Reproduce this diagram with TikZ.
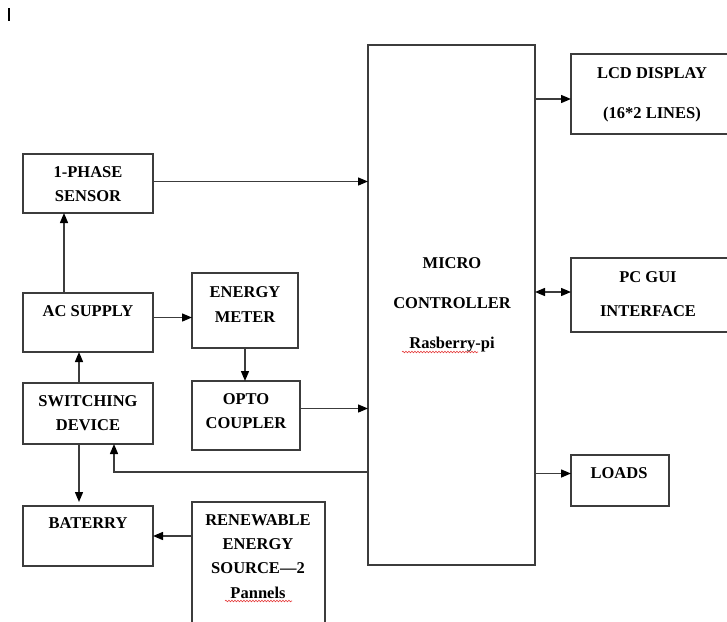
\documentclass[tikz,border=0pt]{standalone}
\usepackage{fontspec}
\setmainfont{Liberation Serif}
\usetikzlibrary{arrows.meta,decorations.pathmorphing,calc}
\definecolor{linec}{RGB}{60,60,60}
\definecolor{spell}{RGB}{230,60,60}
\begin{document}
\begin{tikzpicture}[x=1pt,y=-1pt,
  box/.style={draw=linec,line width=1.5pt,rectangle,inner sep=0pt,outer sep=0pt,anchor=north west},
  lbl/.style={font=\bfseries\fontsize{16.5}{17}\selectfont,text=black,inner sep=0pt,anchor=base},
  conn/.style={draw=linec,line width=1.4pt,-{Triangle[length=10pt,width=8pt,color=black]}},
  dconn/.style={draw=linec,line width=1.4pt,{Triangle[length=10pt,width=8pt,color=black]}-{Triangle[length=10pt,width=8pt,color=black]}},
  wavy/.style={draw=spell,line width=0.6pt,decorate,decoration={snake,amplitude=0.8pt,segment length=3pt}}
]
\useasboundingbox (0,0) rectangle (727,621);
\fill[white] (0,0) rectangle (727,621);
% cursor mark
\draw[line width=1.8pt,black] (9,8) -- (9,21);
% boxes
\node[box,minimum width=130pt,minimum height=59pt] (sensor) at (23,154) {};
\node[box,minimum width=130pt,minimum height=59pt] (ac) at (23,293) {};
\node[box,minimum width=130pt,minimum height=61pt] (sw) at (23,383) {};
\node[box,minimum width=130pt,minimum height=60pt] (bat) at (23,506) {};
\node[box,minimum width=106pt,minimum height=75pt] (em) at (192,273) {};
\node[box,minimum width=108pt,minimum height=69pt] (opto) at (192,381) {};
\node[box,minimum width=133pt,minimum height=130pt] (ren) at (192,502) {};
\node[box,minimum width=167pt,minimum height=520pt] (mc) at (368,45) {};
\node[box,minimum width=170pt,minimum height=80pt] (lcd) at (571,54) {};
\node[box,minimum width=170pt,minimum height=74pt] (pc) at (571,258) {};
\node[box,minimum width=98pt,minimum height=51pt] (loads) at (571,455) {};
% labels
\node[lbl] (t1) at (88,177) {1-PHASE};
\node[lbl] (t2) at (88,201) {SENSOR};
\node[lbl] (t3) at (88,316) {AC SUPPLY};
\node[lbl] (t4) at (245,297) {ENERGY};
\node[lbl] (t5) at (245,322) {METER};
\node[lbl] (t6) at (88,406) {SWITCHING};
\node[lbl] (t7) at (88,430) {DEVICE};
\node[lbl] (t8) at (246,404) {OPTO};
\node[lbl] (t9) at (246,428) {COUPLER};
\node[lbl] (t10) at (88,528) {BATERRY};
\node[lbl] (t11) at (258,525) {RENEWABLE};
\node[lbl] (t12) at (258,549) {ENERGY};
\node[lbl] (t13) at (258,573) {SOURCE—2};
\node[lbl] (t14) at (258,598) {Pannels};
\node[lbl] (t15) at (452,268) {MICRO};
\node[lbl] (t16) at (452,308) {CONTROLLER};
\node[lbl] (t17) at (452,348) {Rasberry-pi};
\node[lbl] (t18) at (652,78) {LCD DISPLAY};
\node[lbl] (t19) at (652,118) {(16*2 LINES)};
\node[lbl] (t20) at (648,282) {PC GUI};
\node[lbl] (t21) at (648,316) {INTERFACE};
\node[lbl] (t22) at (619,478) {LOADS};
% spell-check underlines
\draw[wavy] (402,352) -- (478,352);
\draw[wavy] (225,601) -- (292,601);
% connectors
\draw[conn] ([yshift=2pt]sensor.east) -- ([yshift=2pt]sensor.east -| mc.west);
\draw[conn] ([xshift=-24pt]ac.north) -- ([xshift=-24pt]sensor.south);
\draw[conn] ([yshift=5pt]ac.east) -- ([yshift=5pt]ac.east -| em.west);
\draw[conn] (em.south) -- (em.south |- opto.north);
\draw[conn] ([yshift=7pt]opto.east) -- ([yshift=7pt]opto.east -| mc.west);
\draw[conn] ([xshift=-9pt]sw.north) -- ([xshift=-9pt]ac.south);
\draw[conn] ([xshift=-9pt]sw.south) -- ([xshift=-9pt,yshift=4pt]bat.north);
\coordinate (fb) at (368,472);
\draw[conn] (fb) -| ([xshift=26pt]sw.south);
\draw[conn] (bat.east -| ren.west) -- (bat.east);
\draw[conn] ([yshift=-5pt]lcd.west -| mc.east) -- ([yshift=-5pt]lcd.west);
\draw[dconn] ([yshift=3pt]pc.west -| mc.east) -- ([yshift=3pt]pc.west);
\draw[conn] ([yshift=7pt]loads.west -| mc.east) -- ([yshift=7pt]loads.west);
\end{tikzpicture}
\end{document}
